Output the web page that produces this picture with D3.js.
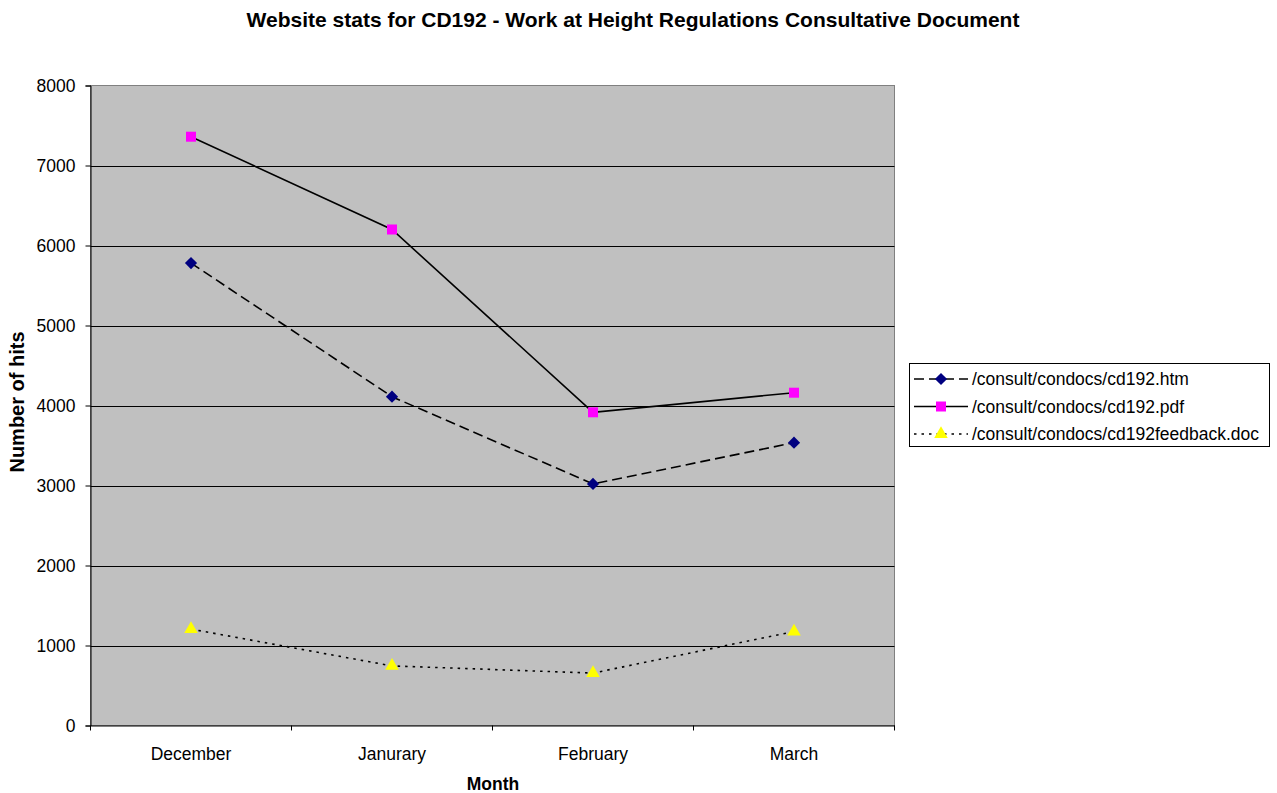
<!DOCTYPE html>
<html><head><meta charset="utf-8">
<script src="https://cdn.jsdelivr.net/npm/d3@7"></script>
<style>body{margin:0;background:#fff}svg{display:block;font-family:Arial,"Liberation Sans",sans-serif}</style>
</head><body><svg id="c" width="1277" height="793"></svg>
<script>
const months = ["December","Janurary","February","March"];
const htmHits = [5780, 4110, 3020, 3535];
const pdfHits = [7360, 6200, 3915, 4160];
const docHits = [1205, 745, 655, 1175];
const yTicks = [0,1000,2000,3000,4000,5000,6000,7000,8000];
const seriesNames = ["/consult/condocs/cd192.htm","/consult/condocs/cd192.pdf","/consult/condocs/cd192feedback.doc"];

const FF = "Arial, 'Liberation Sans', sans-serif";
const svg = d3.select("#c");
const L=90.5, R=894.5, T=85.5, B=725.5;
const x = d3.scaleBand().domain(months).range([L,R]);
const y = d3.scaleLinear().domain([0,8000]).range([B,T]);

svg.append("rect").attr("x",L).attr("y",T).attr("width",R-L).attr("height",B-T)
  .attr("fill","#c0c0c0").attr("stroke","#808080").attr("stroke-width",1);

// gridlines
svg.append("g").selectAll("line").data(yTicks.filter(d=>d>0&&d<8000)).join("line")
  .attr("x1",L).attr("x2",R).attr("y1",d=>Math.round(y(d))+0.5).attr("y2",d=>Math.round(y(d))+0.5)
  .attr("stroke","#000").attr("stroke-width",1);

// y axis
const ya = svg.append("g").attr("transform",`translate(${L},0)`)
  .call(d3.axisLeft(y).tickValues(yTicks).tickSize(5).tickPadding(10).tickFormat(d3.format("d")));
ya.select(".domain").attr("stroke","#000");
ya.selectAll("text").attr("font-size",17.5).attr("fill","#000").attr("font-family",FF).attr("dy","0.36em");

// x axis
const xa = svg.append("g").attr("transform",`translate(0,${B})`)
  .call(d3.axisBottom(x).tickSize(0).tickPadding(0));
xa.select(".domain").attr("stroke","#000");
xa.selectAll("text").attr("font-size",17.5).attr("fill","#000").attr("font-family",FF).attr("y",34).attr("dy",0);
const bounds = months.map(m=>x(m)).concat([R]);
svg.append("g").selectAll("line").data(bounds).join("line")
  .attr("x1",d=>d).attr("x2",d=>d).attr("y1",B).attr("y2",B+5).attr("stroke","#000");

const cx = d=>x(d)+x.bandwidth()/2;
const line = d3.line().x((d,i)=>cx(months[i])).y(d=>y(d));

const series = [
  {name:seriesNames[0], data:htmHits, dash:"10,5", marker:"diamond", fill:"#000080"},
  {name:seriesNames[1], data:pdfHits, dash:null, marker:"square", fill:"#ff00ff"},
  {name:seriesNames[2], data:docHits, dash:"2.5,5", marker:"triangle", fill:"#ffff00"}
];
const sym = {diamond:d3.symbol().type(d3.symbolDiamond2).size(95),
  square:d3.symbol().type(d3.symbolSquare).size(100),
  triangle:d3.symbol().type(d3.symbolTriangle).size(80)};

series.forEach(s=>{
  svg.append("path").datum(s.data).attr("d",line).attr("fill","none")
    .attr("stroke","#000").attr("stroke-width",1.6).attr("stroke-dasharray",s.dash);
  svg.append("g").selectAll("path").data(s.data).join("path")
    .attr("d",sym[s.marker]).attr("transform",(d,i)=>`translate(${cx(months[i])},${y(d)})`)
    .attr("fill",s.fill);
});

// legend
const lg = svg.append("g");
lg.append("rect").attr("x",909.5).attr("y",363.5).attr("width",360).attr("height",83)
  .attr("fill","#fff").attr("stroke","#000");
series.forEach((s,i)=>{
  const yy = 379+i*27.5;
  lg.append("line").attr("x1",914).attr("x2",968).attr("y1",yy).attr("y2",yy)
    .attr("stroke","#000").attr("stroke-width",1.6).attr("stroke-dasharray",s.dash);
  lg.append("path").attr("d",sym[s.marker]).attr("transform",`translate(941,${yy})`).attr("fill",s.fill);
  lg.append("text").attr("x",972).attr("y",yy+6).attr("font-size",17.5).text(s.name);
});

// title and axis labels
svg.append("text").attr("x",633).attr("y",27).attr("text-anchor","middle")
  .attr("font-size",21).attr("font-weight","bold").text("Website stats for CD192 - Work at Height Regulations Consultative Document");
svg.append("text").attr("x",493).attr("y",790).attr("text-anchor","middle")
  .attr("font-size",17.5).attr("font-weight","bold").text("Month");
svg.append("text").attr("transform","translate(24,402) rotate(-90)").attr("text-anchor","middle")
  .attr("font-size",20).attr("font-weight","bold").text("Number of hits");
</script></body></html>
